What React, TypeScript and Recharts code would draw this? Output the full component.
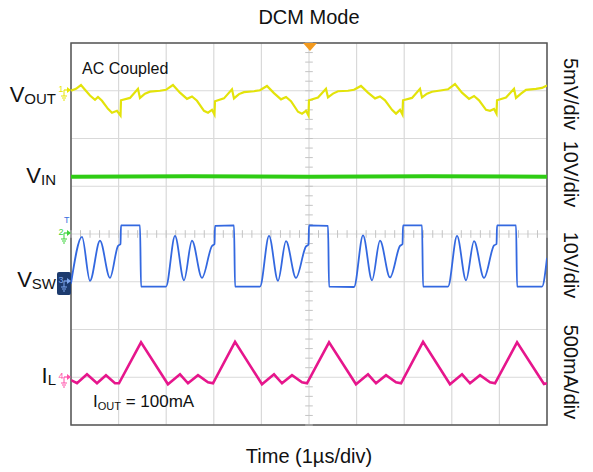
import { LineChart, Line, XAxis, YAxis, CartesianGrid, ReferenceLine, ReferenceArea } from 'recharts'

// time in µs (1µs/div); values in each channel's own unit
const timeTicks = [0, 1, 2, 3, 4, 5, 6, 7, 8, 9, 10]
const divTicks = [-4, -3, -2, -1, 0, 1, 2, 3, 4]

// CH1 VOUT, AC coupled, mV
const vOutPts: [number, number][] = [
  [0, 0.0], [0.105, 0.2], [0.21, 0.6], [0.294, 0.1], [0.399, -0.5], [0.504, -0.95], [0.567, -0.65],
  [0.651, -1.05], [0.777, -1.9], [0.861, -2.3], [0.966, -2.1], [1.04, -2.6],
  [1.05, -1.0], [1.239, -0.75], [1.407, 0.2], [1.449, -0.75], [1.554, -0.3], [1.659, -0.1], [1.869, 0.0],
  [1.995, 0.1], [2.142, 0.6], [2.289, -0.2], [2.437, -0.85], [2.542, -0.6], [2.647, -1.05], [2.794, -2.1],
  [2.878, -2.3], [2.962, -2.0], [3.014, -2.5],
  [3.025, -1.1], [3.214, -0.8], [3.382, 0.15], [3.424, -0.8], [3.529, -0.35], [3.634, -0.15], [3.844, -0.05],
  [3.97, 0.05], [4.117, 0.5], [4.264, -0.25], [4.412, -0.9], [4.517, -0.65], [4.622, -1.1], [4.769, -2.2],
  [4.853, -2.4], [4.937, -2.1], [4.989, -2.6],
  [5.0, -1.0], [5.189, -0.7], [5.357, 0.2], [5.399, -0.7], [5.504, -0.3], [5.609, -0.05], [5.819, 0.0],
  [5.945, 0.1], [6.092, 0.5], [6.239, -0.2], [6.387, -0.8], [6.492, -0.6], [6.597, -1.0], [6.744, -2.0],
  [6.828, -2.4], [6.912, -2.0], [6.964, -2.5],
  [6.975, -1.0], [7.164, -0.75], [7.332, 0.2], [7.374, -0.7], [7.479, -0.3], [7.584, -0.1], [7.794, 0.05],
  [7.92, 0.15], [8.067, 0.7], [8.214, -0.2], [8.362, -0.85], [8.467, -0.55], [8.572, -1.0], [8.719, -2.0],
  [8.803, -2.1], [8.887, -1.9], [8.939, -2.4],
  [8.95, -1.0], [9.139, -0.7], [9.307, 0.2], [9.349, -0.75], [9.454, -0.3], [9.559, 0.1], [9.769, 0.2],
  [9.895, 0.3], [10.0, 0.55],
]

// CH2 VIN, V
const vInPts: [number, number][] = [
  [0, 12], [2.5, 12.1], [5, 12], [7.5, 12.1], [10, 12],
]

// CH3 VSW, V
const vSwPts: [number, number][] = [
  [0, -0.4], [0.231, 9.4], [0.399, 0.2], [0.609, 8.6], [0.819, 0.8], [0.987, 7.5], [1.04, 7.9],
  [1.05, 11.8], [1.45, 11.8], [1.471, -1.0], [1.996, -1.0], [2.185, 9.6], [2.374, 0.3], [2.542, 8.6],
  [2.752, 0.8], [2.962, 7.5], [3.015, 7.9],
  [3.025, 11.7], [3.425, 11.8], [3.446, -1.0], [3.971, -1.0], [4.16, 9.6], [4.349, 0.2], [4.517, 8.5],
  [4.727, 0.8], [4.937, 7.4], [4.99, 7.8],
  [5.0, 11.8], [5.4, 11.7], [5.421, -1.0], [5.946, -1.1], [6.135, 9.7], [6.324, 0.3], [6.492, 8.6],
  [6.702, 0.9], [6.912, 7.5], [6.965, 7.9],
  [6.975, 11.8], [7.375, 11.8], [7.396, -1.0], [7.921, -1.0], [8.11, 9.6], [8.299, 0.3], [8.467, 8.5],
  [8.677, 0.8], [8.887, 7.6], [8.94, 7.9],
  [8.95, 11.8], [9.35, 11.8], [9.371, -1.0], [9.896, -1.0], [10.0, 5.0],
]

// CH4 IL, mA
const iLPts: [number, number][] = [
  [0, -30], [0.126, -63], [0.336, 31], [0.546, -63], [0.735, 21], [0.924, -63], [1.008, -63],
  [1.471, 365], [2.037, -73], [2.29, 31], [2.458, -63], [2.668, 21], [2.878, -52], [2.983, -63],
  [3.446, 370], [4.012, -73], [4.265, 31], [4.433, -63], [4.643, 21], [4.853, -52], [4.958, -63],
  [5.421, 365], [5.987, -73], [6.24, 31], [6.408, -63], [6.618, 21], [6.828, -52], [6.933, -63],
  [7.396, 370], [7.962, -73], [8.215, 31], [8.383, -63], [8.593, 21], [8.803, -52], [8.908, -63],
  [9.371, 365], [9.937, -70], [10.0, -63],
]

const toRows = (pts: [number, number][]) => pts.map(([t, v]) => ({ t, v }))

const FONT = '"Liberation Sans", Arial, sans-serif'
const W = 593
const H = 472

const minorX = Array.from({ length: 51 }, (_, i) => i * 0.2)
const minorY = Array.from({ length: 41 }, (_, i) => -4 + i * 0.2)

function ChMarker({ y, n, color, box }: { y: number; n: string; color: string; box?: boolean }) {
  const c = box ? '#7fa8f0' : color
  return (
    <g>
      {box && <rect x={57} y={y - 9} width={14} height={23} rx={2} fill="#1d3b6e" />}
      <text x={58.5} y={y + 2} fontSize={9} fill={c} fontFamily={FONT}>{n}</text>
      <line x1={64} y1={y} x2={68} y2={y} stroke={c} strokeWidth={1.2} />
      <path d={`M67 ${y - 3} L71 ${y} L67 ${y + 3} Z`} fill={c} />
      <line x1={64} y1={y} x2={64} y2={y + 6} stroke={c} />
      <line x1={61} y1={y + 6} x2={67} y2={y + 6} stroke={c} />
      <line x1={62} y1={y + 8} x2={66} y2={y + 8} stroke={c} />
      <line x1={63} y1={y + 10} x2={65} y2={y + 10} stroke={c} />
    </g>
  )
}

function Overlay() {
  const rightLabels = [
    { text: '5mV/div', y: 94 },
    { text: '10V/div', y: 174 },
    { text: '10V/div', y: 265 },
    { text: '500mA/div', y: 372 },
  ]
  const leftLabels = [
    { main: 'V', sub: 'OUT', y: 102 },
    { main: 'V', sub: 'IN', y: 183 },
    { main: 'V', sub: 'SW', y: 287 },
    { main: 'I', sub: 'L', y: 383 },
  ]
  return (
    <svg width={W} height={H} style={{ position: 'absolute', left: 0, top: 0, pointerEvents: 'none' }}>
      <g fontFamily={FONT} fill="#111">
        <text x={309} y={24} fontSize={20} textAnchor="middle">DCM Mode</text>
        <text x={309} y={463} fontSize={20} textAnchor="middle">Time (1µs/div)</text>
        <text x={82} y={74} fontSize={16}>AC Coupled</text>
        <text x={93} y={407} fontSize={17}>
          I<tspan fontSize={11} dy={3}>OUT</tspan><tspan dy={-3}> = 100mA</tspan>
        </text>
        {leftLabels.map((l) => (
          <text key={l.sub} x={56} y={l.y} fontSize={22} textAnchor="end">
            {l.main}<tspan fontSize={15} dy={2}>{l.sub}</tspan>
          </text>
        ))}
        {rightLabels.map((l, i) => (
          <text
            key={i}
            x={571}
            y={l.y}
            fontSize={20}
            textAnchor="middle"
            dominantBaseline="central"
            transform={`rotate(90 571 ${l.y})`}
          >
            {l.text}
          </text>
        ))}
      </g>
      <path d="M303 43 L317 43 L310 51 Z" fill="#f39a1e" />
      <text x={64} y={223} fontSize={9} fill="#3b6fe0" fontFamily={FONT}>T</text>
      <ChMarker y={90} n="1" color="#e6e600" />
      <ChMarker y={233} n="2" color="#3dd43d" />
      <ChMarker y={281} n="3" color="#2f5fd0" box />
      <ChMarker y={377} n="4" color="#ff4fa8" />
    </svg>
  )
}

export default function App() {
  return (
    <div style={{ position: 'absolute', left: 0, top: 0, width: W, height: H, background: '#fff' }}>
      <LineChart width={W} height={H} margin={{ top: 43, right: 46, bottom: 47, left: 71 }}>
        <XAxis type="number" dataKey="t" domain={[0, 10]} ticks={timeTicks} allowDataOverflow hide />
        <YAxis yAxisId="grid" type="number" domain={[-4, 4]} ticks={divTicks} allowDataOverflow hide />
        <YAxis yAxisId="vout" type="number" domain={[-35, 5]} allowDataOverflow hide />
        <YAxis yAxisId="vin" type="number" domain={[-40, 40]} allowDataOverflow hide />
        <YAxis yAxisId="vsw" type="number" domain={[-30, 50]} allowDataOverflow hide />
        <YAxis yAxisId="il" type="number" domain={[-500, 3500]} allowDataOverflow hide />
        <CartesianGrid yAxisId="grid" stroke="#d9d9d9" strokeWidth={1.2} />
        {minorX.map((x) => (
          <ReferenceLine
            key={'mx' + x}
            yAxisId="grid"
            segment={[{ x, y: -0.08 }, { x, y: 0.08 }]}
            stroke="#c4c4c4"
          />
        ))}
        {minorY.map((y) => (
          <ReferenceLine
            key={'my' + y}
            yAxisId="grid"
            segment={[{ x: 4.92, y }, { x: 5.08, y }]}
            stroke="#c4c4c4"
          />
        ))}
        <ReferenceArea yAxisId="grid" x1={0} x2={10} y1={-4} y2={4} fill="none" stroke="#555" strokeWidth={1.5} />
        <Line yAxisId="vin" data={toRows(vInPts)} dataKey="v" stroke="#2fcc14" strokeWidth={4} dot={false} isAnimationActive={false} />
        <Line yAxisId="vout" data={toRows(vOutPts)} dataKey="v" stroke="#e3e30a" strokeWidth={2.2} dot={false} isAnimationActive={false} />
        <Line yAxisId="vsw" type="monotone" data={toRows(vSwPts)} dataKey="v" stroke="#3368e0" strokeWidth={1.8} dot={false} isAnimationActive={false} />
        <Line yAxisId="il" data={toRows(iLPts)} dataKey="v" stroke="#e6168c" strokeWidth={2.6} dot={false} isAnimationActive={false} />
      </LineChart>
      <Overlay />
    </div>
  )
}
